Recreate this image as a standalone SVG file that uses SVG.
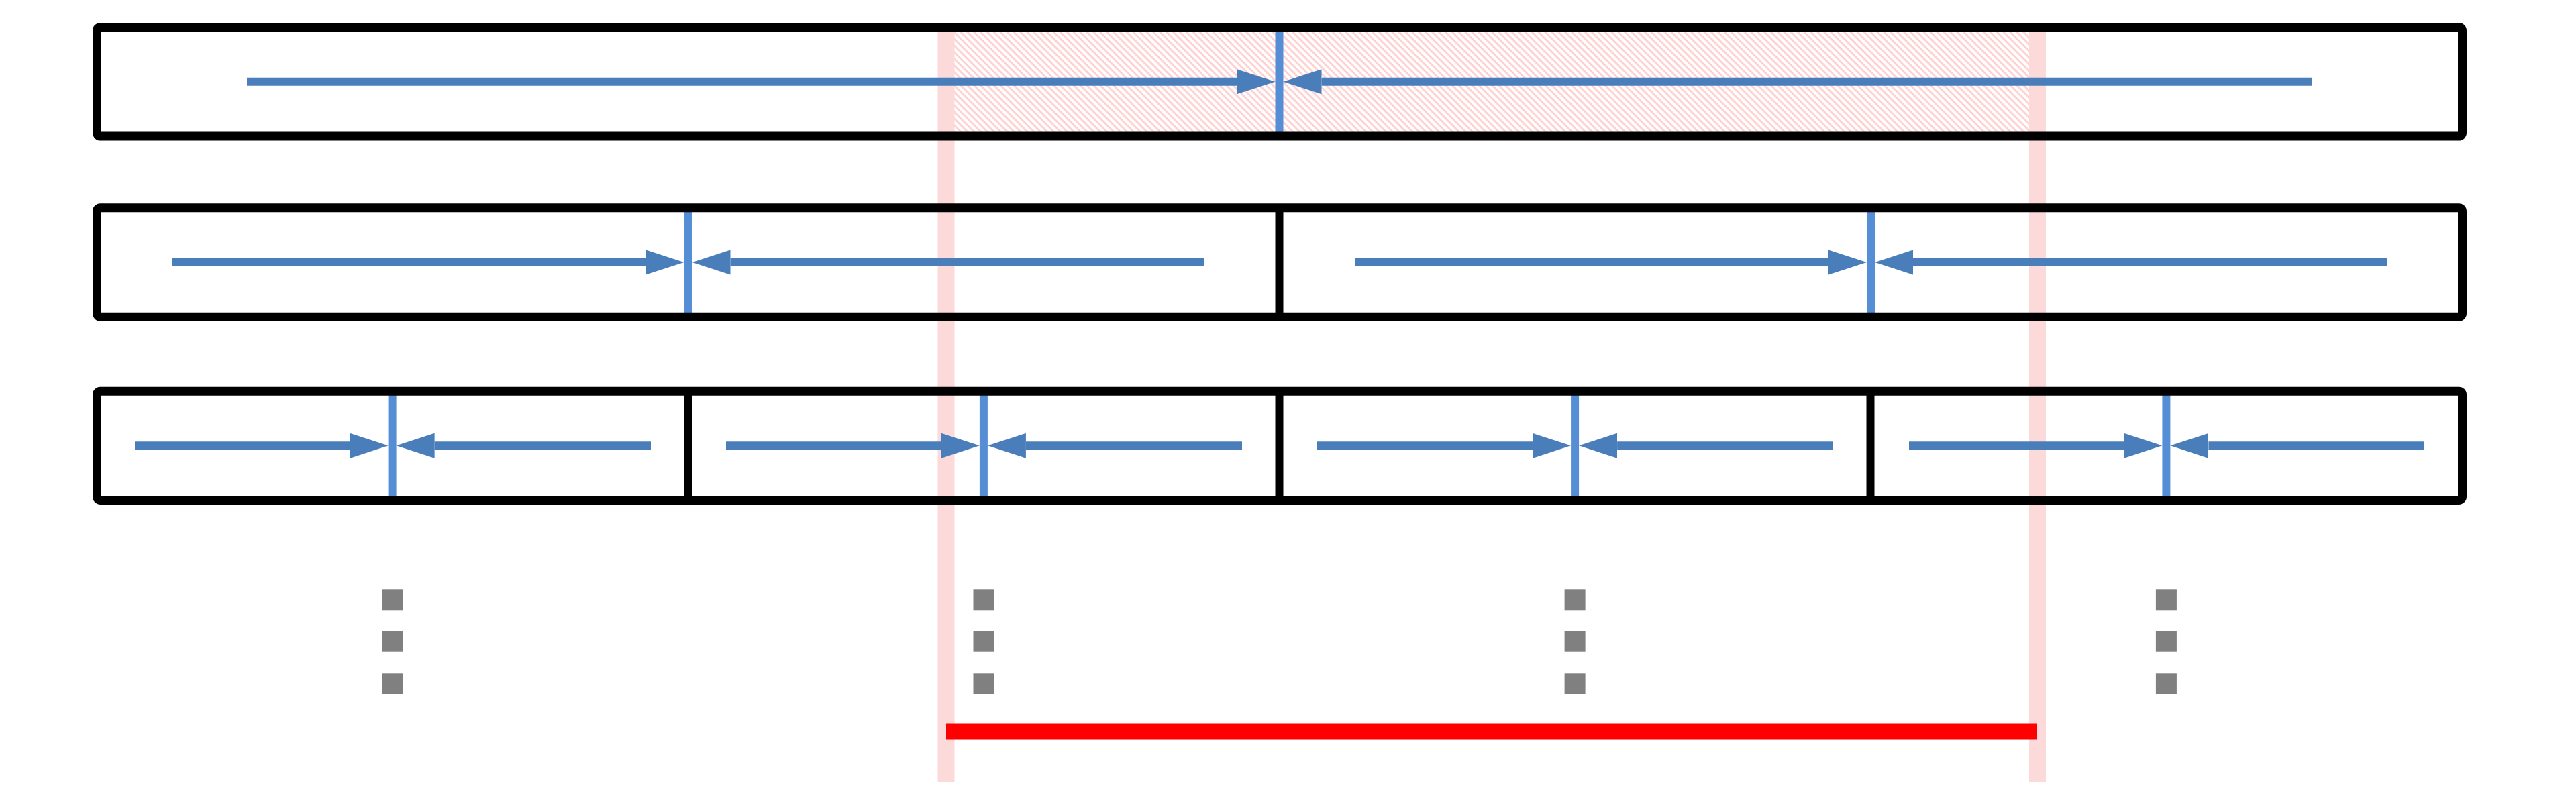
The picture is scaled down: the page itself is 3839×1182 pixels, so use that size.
<svg xmlns="http://www.w3.org/2000/svg" width="3839" height="1182" viewBox="0 0 3839 1182">
  <style>
    .box { fill: none; stroke: #000000; stroke-width: 13; }
    .div { stroke: #000000; stroke-width: 12; }
    .arr { stroke: #4A7EBB; stroke-width: 12; fill: none; marker-end: url(#head); }
    .mid { stroke: #558ED5; stroke-width: 12; }
    .stripe { fill: #FDDADA; }
    .dot { fill: #808080; }
  </style>
  <defs>
    <marker id="head" markerUnits="userSpaceOnUse" markerWidth="58" markerHeight="38" refX="0" refY="18.5" orient="auto">
      <path d="M0,0 L57,18.5 L0,37 Z" fill="#4A7EBB"/>
    </marker>
    <pattern id="hatch" patternUnits="userSpaceOnUse" width="7" height="7" patternTransform="rotate(45)">
      <rect x="0" y="0" width="7" height="2.8" fill="#FFCFCF"/>
    </pattern>
  </defs>

  <g id="highlight">
    <rect x="1410" y="41" width="1626" height="162" fill="url(#hatch)"/>
    <rect class="stripe" x="1397.5" y="40" width="25" height="1125"/>
    <rect class="stripe" x="3024" y="40" width="25" height="1125"/>
  </g>

  <g id="connectors">
    <!-- level 1 -->
    <line class="arr" x1="368" y1="121.75" x2="1843.5" y2="121.75"/>
    <line class="arr" x1="3445" y1="121.75" x2="1969.5" y2="121.75"/>
    <!-- level 2 -->
    <line class="arr" x1="257" y1="391" x2="962.5" y2="391"/>
    <line class="arr" x1="1795" y1="391" x2="1088.5" y2="391"/>
    <line class="arr" x1="2020" y1="391" x2="2725" y2="391"/>
    <line class="arr" x1="3557" y1="391" x2="2851" y2="391"/>
    <!-- level 3 -->
    <line class="arr" x1="201" y1="664.3" x2="521.6" y2="664.3"/>
    <line class="arr" x1="970" y1="664.3" x2="647.6" y2="664.3"/>
    <line class="arr" x1="1082" y1="664.3" x2="1402.9" y2="664.3"/>
    <line class="arr" x1="1851" y1="664.3" x2="1528.9" y2="664.3"/>
    <line class="arr" x1="1963" y1="664.3" x2="2284.1" y2="664.3"/>
    <line class="arr" x1="2732" y1="664.3" x2="2410.1" y2="664.3"/>
    <line class="arr" x1="2845" y1="664.3" x2="3165.4" y2="664.3"/>
    <line class="arr" x1="3613" y1="664.3" x2="3291.4" y2="664.3"/>
  </g>

  <g id="midlines">
    <line class="mid" x1="1906.5" y1="44" x2="1906.5" y2="200"/>
    <line class="mid" x1="1025.5" y1="313" x2="1025.5" y2="469"/>
    <line class="mid" x1="2788" y1="313" x2="2788" y2="469"/>
    <line class="mid" x1="584.6" y1="587" x2="584.6" y2="742"/>
    <line class="mid" x1="1465.9" y1="587" x2="1465.9" y2="742"/>
    <line class="mid" x1="2347.1" y1="587" x2="2347.1" y2="742"/>
    <line class="mid" x1="3228.4" y1="587" x2="3228.4" y2="742"/>
  </g>

  <g id="level1">
    <rect class="box" x="144.5" y="40.5" width="3525" height="162.5" rx="5"/>
  </g>
  <g id="level2">
    <rect class="box" x="144.5" y="309.7" width="3525" height="162.6" rx="5"/>
    <line class="div" x1="1906.5" y1="309.7" x2="1906.5" y2="472.3"/>
  </g>
  <g id="level3">
    <rect class="box" x="144.5" y="583.2" width="3525" height="162.2" rx="5"/>
    <line class="div" x1="1025.5" y1="583.2" x2="1025.5" y2="745.4"/>
    <line class="div" x1="1906.5" y1="583.2" x2="1906.5" y2="745.4"/>
    <line class="div" x1="2787.5" y1="583.2" x2="2787.5" y2="745.4"/>
  </g>

  <g id="ellipsis">
    <rect class="dot" x="569" y="878.3" width="31" height="31"/>
    <rect class="dot" x="569" y="940.7" width="31" height="31"/>
    <rect class="dot" x="569" y="1003.3" width="31" height="31"/>
    <rect class="dot" x="1450.5" y="878.3" width="31" height="31"/>
    <rect class="dot" x="1450.5" y="940.7" width="31" height="31"/>
    <rect class="dot" x="1450.5" y="1003.3" width="31" height="31"/>
    <rect class="dot" x="2331.6" y="878.3" width="31" height="31"/>
    <rect class="dot" x="2331.6" y="940.7" width="31" height="31"/>
    <rect class="dot" x="2331.6" y="1003.3" width="31" height="31"/>
    <rect class="dot" x="3212.9" y="878.3" width="31" height="31"/>
    <rect class="dot" x="3212.9" y="940.7" width="31" height="31"/>
    <rect class="dot" x="3212.9" y="1003.3" width="31" height="31"/>
  </g>

  <g id="range">
    <rect x="1410" y="1078.5" width="1626" height="24" fill="#FF0000"/>
  </g>
</svg>
